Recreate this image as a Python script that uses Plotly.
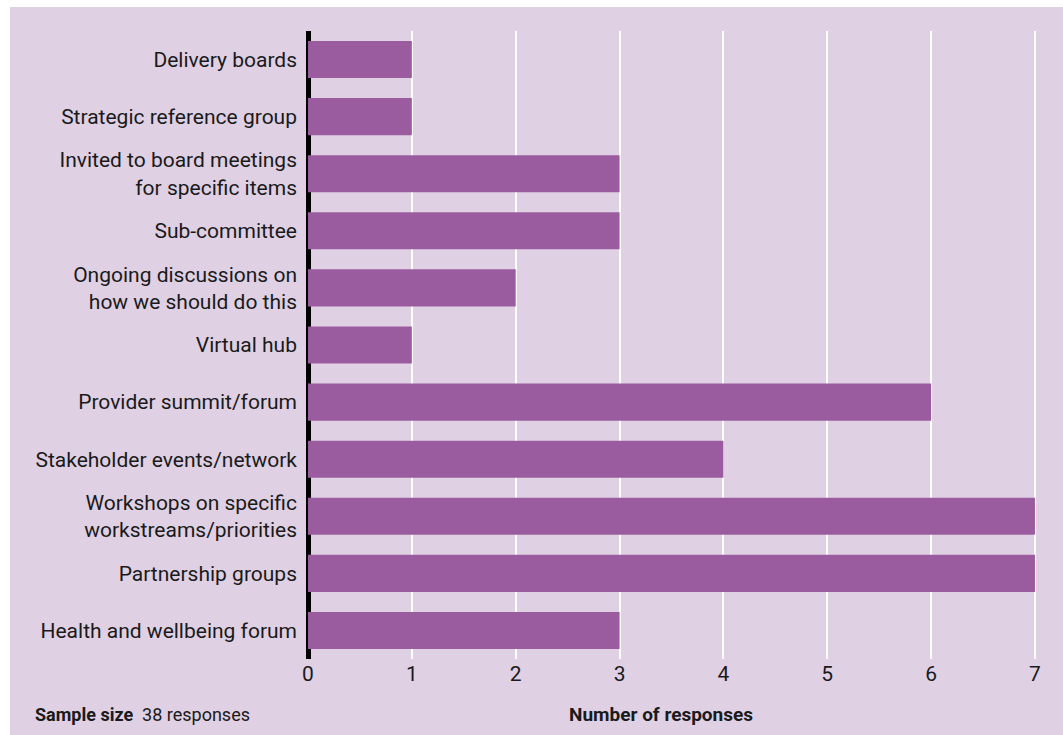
import plotly.graph_objects as go

categories = [
    "Delivery boards",
    "Strategic reference group",
    "Invited to board meetings<br>for specific items",
    "Sub-committee",
    "Ongoing discussions on<br>how we should do this",
    "Virtual hub",
    "Provider summit/forum",
    "Stakeholder events/network",
    "Workshops on specific<br>workstreams/priorities",
    "Partnership groups",
    "Health and wellbeing forum",
]
responses = [1, 1, 3, 3, 2, 1, 6, 4, 7, 7, 3]
x_ticks = [0, 1, 2, 3, 4, 5, 6, 7]

BG = "#dfd0e4"
BAR = "#9b5c9f"
TXT = "#1a1a1a"
FONT = "Roboto"

W, H = 1063, 735
ML, MR, MT, MB = 308, 27, 31, 76
PW, PH = W - ML - MR, H - MT - MB


def px_x(p):
    return (p - ML) / PW


def px_y(p):
    return (H - MB - p) / PH


fig = go.Figure(
    go.Bar(
        x=responses,
        y=categories,
        orientation="h",
        marker=dict(color=BAR, line=dict(width=0)),
        hoverinfo="x+y",
    )
)

fig.update_layout(
    width=W,
    height=H,
    margin=dict(l=ML, r=MR, t=MT, b=MB, pad=0),
    paper_bgcolor=BG,
    plot_bgcolor="rgba(0,0,0,0)",
    bargap=0.35,
    showlegend=False,
    font=dict(family=FONT, color=TXT, size=20),
    xaxis=dict(
        range=[0, 7.01],
        tickvals=x_ticks,
        showgrid=True,
        gridcolor="white",
        gridwidth=2,
        zeroline=True,
        zerolinecolor="black",
        zerolinewidth=5,
        showline=False,
        ticks="",
        ticklabelstandoff=0,
        tickfont=dict(size=21),
        fixedrange=True,
    ),
    yaxis=dict(
        categoryorder="array",
        categoryarray=categories,
        autorange="reversed",
        showgrid=False,
        zeroline=False,
        showline=False,
        ticks="",
        ticklabelstandoff=10,
        tickfont=dict(size=21),
        fixedrange=True,
    ),
    shapes=[
        # white frame strips on the left and top edges
        dict(type="rect", xref="paper", yref="paper",
             x0=px_x(0), x1=px_x(10), y0=px_y(H), y1=px_y(0),
             fillcolor="white", line=dict(width=0), layer="below"),
        dict(type="rect", xref="paper", yref="paper",
             x0=px_x(0), x1=px_x(W), y0=px_y(7), y1=px_y(0),
             fillcolor="white", line=dict(width=0), layer="below"),
    ],
    annotations=[
        dict(text="<b>Number of responses</b>", xref="paper", yref="paper",
             x=px_x(661), y=px_y(714), xanchor="center", yanchor="middle",
             showarrow=False, font=dict(size=19, color=TXT, family=FONT)),
        dict(text="<b>Sample size</b>  38 responses", xref="paper", yref="paper",
             x=px_x(33), y=px_y(714), xanchor="left", yanchor="middle",
             showarrow=False, font=dict(size=18, color=TXT, family=FONT)),
    ],
)

fig.write_html("out.html")
